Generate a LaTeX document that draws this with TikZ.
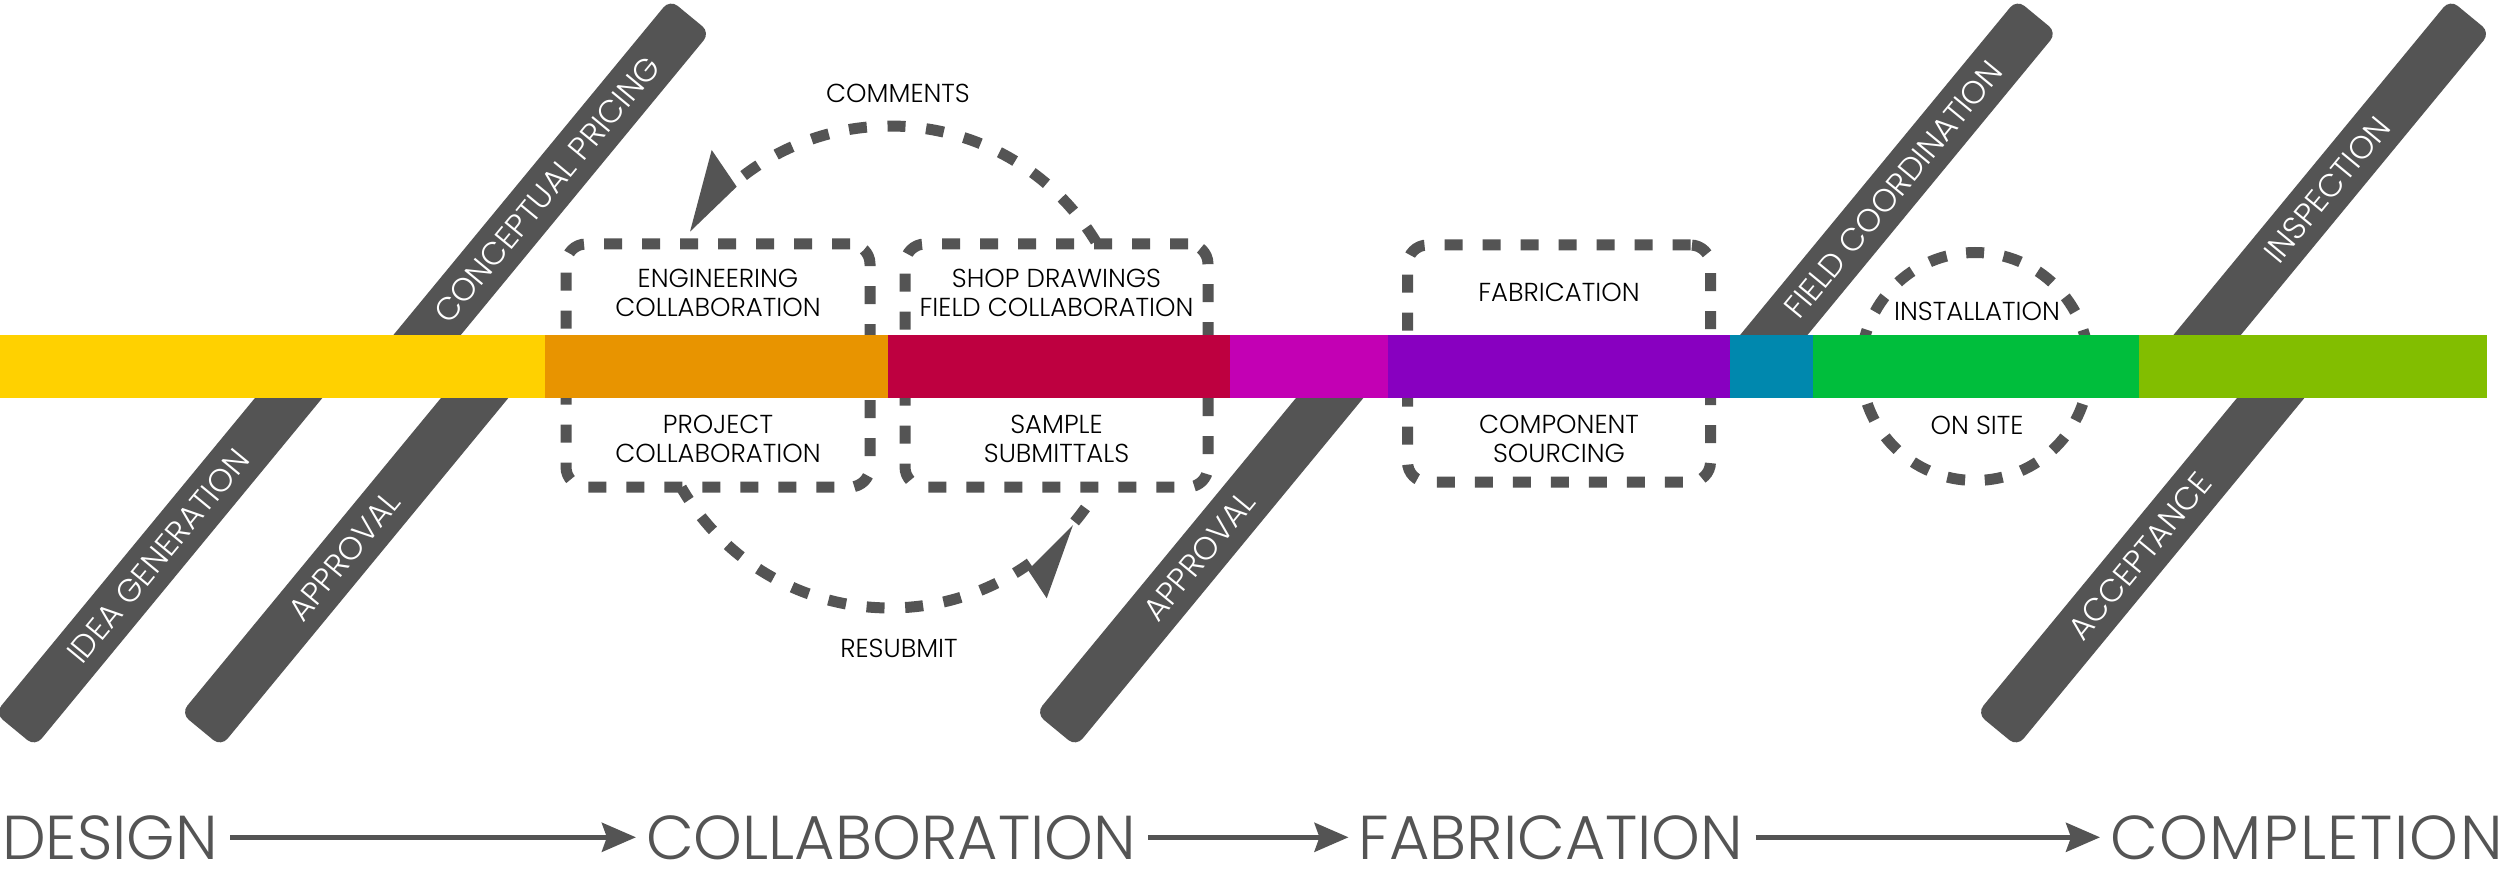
\documentclass[tikz,border=0pt]{standalone}
\usepackage{fontspec}
\setmainfont{Poppins}[UprightFont={* Light}]
\usetikzlibrary{arrows.meta}
\definecolor{dgray}{HTML}{545454}
\definecolor{cyel}{HTML}{FFD100}
\definecolor{cora}{HTML}{E89400}
\definecolor{ccri}{HTML}{BE0040}
\definecolor{cmag}{HTML}{C300B4}
\definecolor{cpur}{HTML}{8800C0}
\definecolor{ctea}{HTML}{0088AE}
\definecolor{cgre}{HTML}{00BE3C}
\definecolor{clim}{HTML}{82BE00}
\begin{document}
\begin{tikzpicture}[x=1pt,y=-1pt,
  dbar/.style={rectangle, fill=dgray, draw=none, rounded corners=10pt,
    minimum height=52pt, rotate=50.5, inner sep=0pt},
  btext/.style={text=white, rotate=50.5, font=\fontsize{32}{32}\selectfont, inner sep=0pt},
  dashbox/.style={rectangle, draw=dgray, line width=11pt, dash pattern=on 18pt off 20pt,
    rounded corners=20pt, inner sep=0pt},
  dashring/.style={circle, draw=dgray, line width=11pt, dash pattern=on 18pt off 19.7pt,
    dash phase=18.5pt, inner sep=0pt},
  dashline/.style={draw=dgray, line width=11pt, dash pattern=on 18pt off 20.7pt},
  boxtext/.style={text=black, align=center, font=\fontsize{26}{29}\selectfont, inner sep=0pt},
  stage/.style={text=dgray, font=\fontsize{62}{62}\selectfont, inner sep=0pt, anchor=base},
  stagearrow/.style={draw=dgray, line width=4.7pt,
    -{Stealth[length=34pt,width=29pt,inset=5pt]}},
  ahead/.style={fill=dgray}
]
\useasboundingbox (0,0) rectangle (2500,874);
\fill[white] (0,0) rectangle (2500,874);

% ---------- diagonal grey bars ----------
\node[dbar, minimum width=471.5pt] (barA) at (165,548) {};
\node[dbar, minimum width=471.5pt] (barB) at (351,548) {};
\node[dbar, minimum width=453.4pt] (barC) at (545.8,191) {};
\node[dbar, minimum width=471.5pt] (barD) at (1206,548) {};
\node[dbar, minimum width=453.4pt] (barE) at (1892.5,191) {};
\node[dbar, minimum width=453.4pt] (barF) at (2325.8,191) {};
\node[dbar, minimum width=471.5pt] (barG) at (2147,548) {};

\node[btext] (tA) at (158.1,556.3) {IDEA GENERATION};
\node[btext] (tB) at (344.1,556.3) {APPROVAL};
\node[btext] (tC) at (546.9,189.7) {CONCEPTUAL PRICING};
\node[btext] (tD) at (1199.1,556.3) {APPROVAL};
\node[btext] (tE) at (1893.6,189.7) {FIELD COORDINATION};
\node[btext] (tF) at (2326.9,189.7) {INSPECTION};
\node[btext] (tG) at (2140.1,556.3) {ACCEPTANCE};

% ---------- dashed groupings ----------
\node[dashbox, minimum width=304pt, minimum height=243pt] (engbox) at (718,365.5) {};
\node[dashbox, minimum width=303pt, minimum height=243pt] (shopbox) at (1056.5,365.5) {};
\node[dashbox, minimum width=303pt, minimum height=237pt] (fabbox) at (1559,363.5) {};
\node[dashring, minimum size=228pt] (instring) at (1975,366.5) {};

% ---------- colour bar ----------
\fill[cyel] (0,335) rectangle (545,398);
\fill[cora] (545,335) rectangle (888,398);
\fill[ccri] (888,335) rectangle (1230,398);
\fill[cmag] (1230,335) rectangle (1388,398);
\fill[cpur] (1388,335) rectangle (1730,398);
\fill[ctea] (1730,335) rectangle (1813,398);
\fill[cgre] (1813,335) rectangle (2139,398);
\fill[clim] (2139,335) rectangle (2487,398);

% ---------- texts in groupings ----------
\node[boxtext] (eng) at (718,292.5) {ENGINEERING\\COLLABORATION};
\node[boxtext] (proj) at (718,439) {PROJECT\\COLLABORATION};
\node[boxtext] (shop) at (1056.5,292.5) {SHOP DRAWINGS\\FIELD COLLABORATION};
\node[boxtext] (samp) at (1056.5,439) {SAMPLE\\SUBMITTALS};
\node[boxtext] (fab) at (1559,292) {FABRICATION};
\node[boxtext] (comp) at (1559,439) {COMPONENT\\SOURCING};
\node[boxtext] (inst) at (1977,311.7) {INSTALLATION};
\node[boxtext] (site) at (1977,425.3) {ON SITE};
\node[boxtext] (comm) at (898,93) {COMMENTS};
\node[boxtext] (resub) at (899,648) {RESUBMIT};

% ---------- review loop ----------
\coordinate (lc) at (890,367);
\draw[dashline] (lc) ++(232.6:241) arc[start angle=232.6, end angle=328.6, radius=241];
\draw[dashline] (lc) ++(54.5:241) arc[start angle=54.5, end angle=150, radius=241];
\draw[draw=dgray, line width=11pt] (lc) ++(35.8:241) arc[start angle=35.8, end angle=40, radius=241];
\coordinate (toptip) at (711.7,150);
\coordinate (bottip) at (1046.7,598.3);
\fill[ahead] (toptip) -- (736.7,186.7) -- (690,231.7) -- cycle;
\fill[ahead] (bottip) -- (1028,570) -- (1073,525) -- cycle;

% ---------- stages ----------
\node[stage] (design) at (110,859) {DESIGN};
\node[stage] (collab) at (891,859) {COLLABORATION};
\node[stage] (fabr) at (1551,859) {FABRICATION};
\node[stage, anchor=base west] (compl) at (2110,859)
  {C\kern1.5pt O\kern1.5pt M\kern1.5pt P\kern1.5pt L\kern1.5pt E\kern1.5pt T\kern1.5pt I\kern1.5pt O\kern1.5pt N};
\draw[stagearrow, shorten <=12pt, shorten >=10pt] (design.east) -- (collab.west);
\draw[stagearrow, shorten <=12pt, shorten >=10pt] (collab.east) -- (fabr.west);
\draw[stagearrow, shorten <=12pt, shorten >=10pt] (fabr.east) -- (compl.west);
\end{tikzpicture}
\end{document}
